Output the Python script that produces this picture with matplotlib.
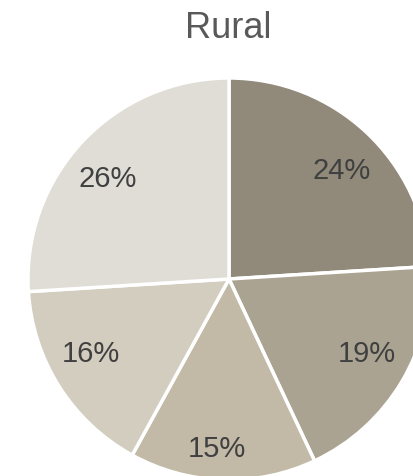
import matplotlib
matplotlib.use("Agg")
import matplotlib.pyplot as plt
import numpy as np

plt.rcParams['font.family'] = ['Liberation Sans', 'DejaVu Sans']

title = "Rural"
shares = [24, 19, 15, 16, 26]
labels = ["24%", "19%", "15%", "16%", "26%"]
colors = ["#918a7b", "#aba392", "#c2baa7", "#d3cdbf", "#e0ddd6"]

# label placement (radius as fraction of pie radius, angle nudge in degrees)
label_r = [0.78, 0.78, 0.845, 0.78, 0.785]
label_nudge = [-2.6, 2.4, -2.2, -4.4, 3.6]

W, H = 414, 477
cx, cy, R = 229, 280, 201

fig = plt.figure(figsize=(W / 100, H / 100), dpi=100)
ax = fig.add_axes([0, 0, 1, 1])

wedges, _ = ax.pie(shares, colors=colors, startangle=90, counterclock=False,
                   wedgeprops=dict(edgecolor="white", linewidth=2.5))

for w, lab, r, nd in zip(wedges, labels, label_r, label_nudge):
    ang = np.deg2rad((w.theta1 + w.theta2) / 2 + nd)
    ax.text(r * np.cos(ang), r * np.sin(ang), lab, ha="center", va="center",
            fontsize=21, color="#404040")

ax.set_xlim(-cx / R, (W - cx) / R)
ax.set_ylim(-(H - cy) / R, cy / R)
ax.set_aspect("auto")
ax.axis("off")

fig.text(228 / W, 1 - 38 / H, title, ha="center", va="baseline",
         fontsize=26, color="#595959")

fig.savefig("out.png", dpi=100)
